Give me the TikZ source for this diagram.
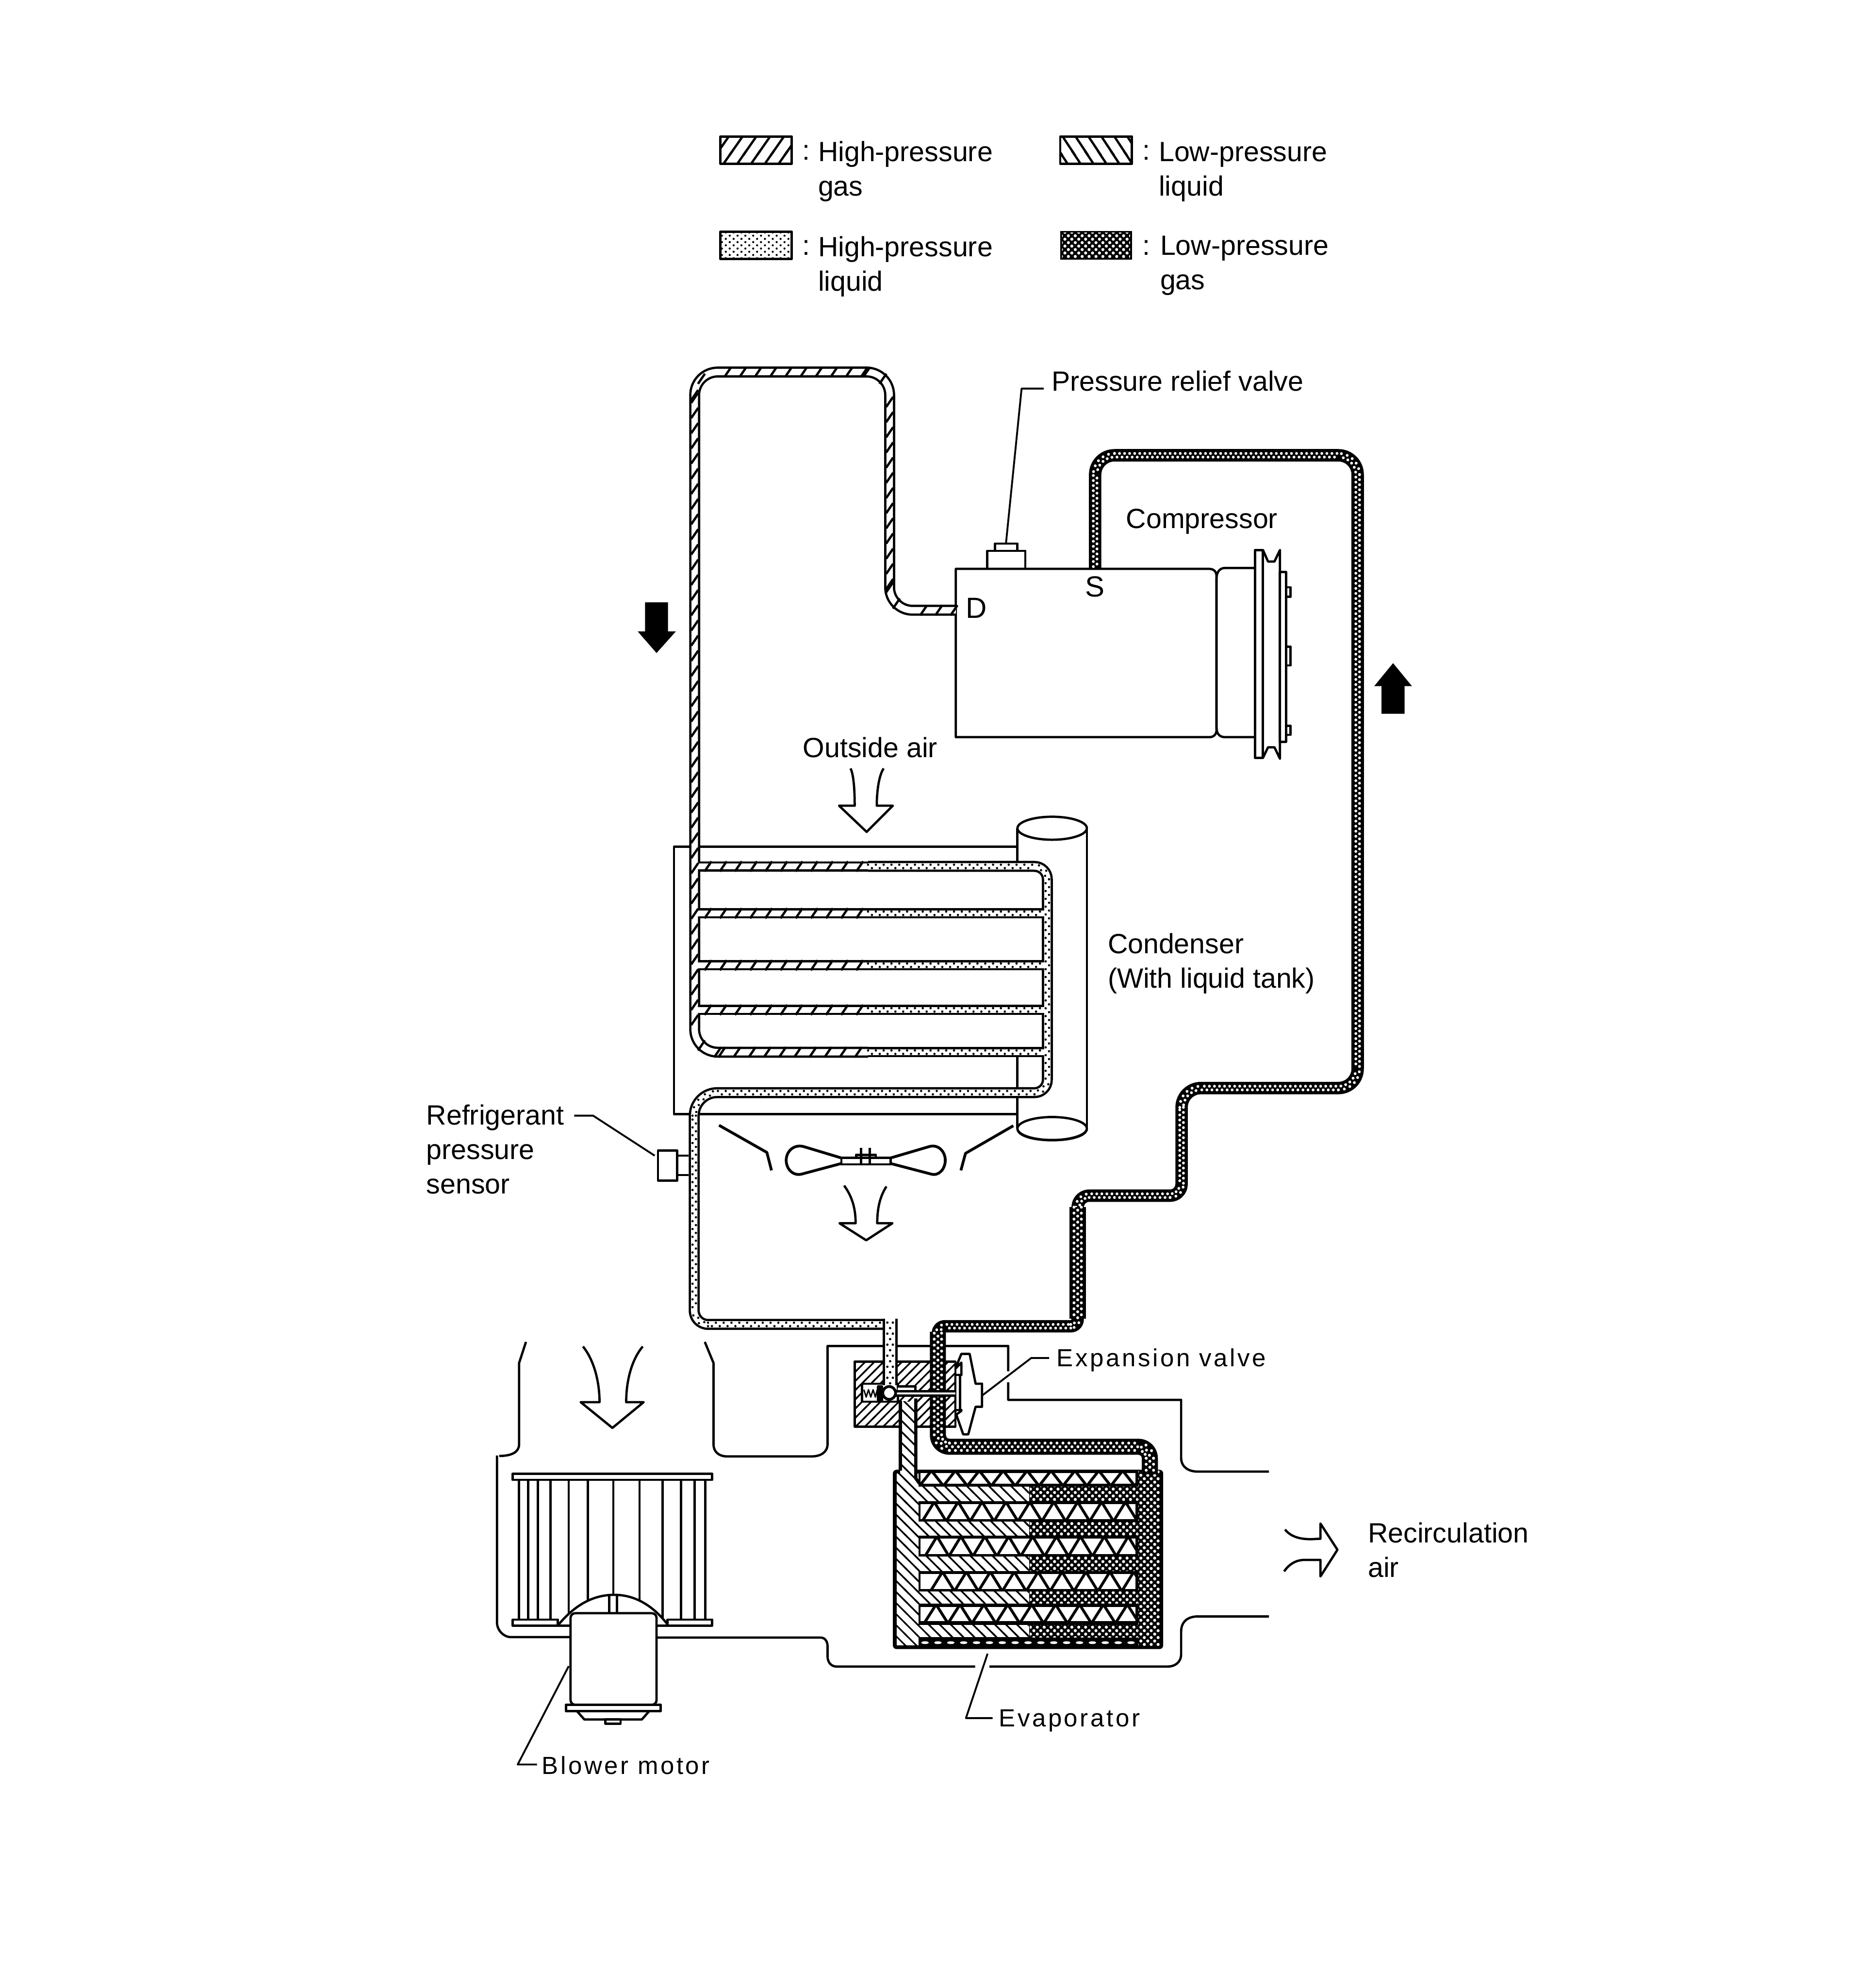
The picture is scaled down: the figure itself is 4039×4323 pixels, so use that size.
\documentclass[tikz,border=0pt]{standalone}
\usepackage{fontspec}
\setmainfont{Liberation Sans}
\newfontfamily\spcfont[LetterSpace=9]{Liberation Sans}
\usetikzlibrary{patterns}
\pgfdeclarepatternformonly{HGhatch}{\pgfqpoint{-2pt}{-2pt}}{\pgfqpoint{10.53pt}{14.2pt}}{\pgfqpoint{8.53pt}{12.2pt}}{%
 \pgfsetlinewidth{1.4pt}\pgfpathmoveto{\pgfqpoint{-1pt}{-1.43pt}}\pgfpathlineto{\pgfqpoint{9.53pt}{13.63pt}}\pgfusepath{stroke}}
\pgfdeclarepatternformonly{LLhatch}{\pgfqpoint{-2pt}{-2pt}}{\pgfqpoint{10pt}{14.2pt}}{\pgfqpoint{8pt}{12.2pt}}{%
 \pgfsetlinewidth{1.4pt}\pgfpathmoveto{\pgfqpoint{-1pt}{13.63pt}}\pgfpathlineto{\pgfqpoint{9pt}{-1.43pt}}\pgfusepath{stroke}}
\pgfdeclarepatternformonly{EVhatch}{\pgfqpoint{-2pt}{-2pt}}{\pgfqpoint{8.83pt}{8.83pt}}{\pgfqpoint{6.83pt}{6.83pt}}{%
 \pgfsetlinewidth{1pt}\pgfpathmoveto{\pgfqpoint{-1pt}{7.83pt}}\pgfpathlineto{\pgfqpoint{7.83pt}{-1pt}}\pgfusepath{stroke}}
\pgfdeclarepatternformonly{BKhatch}{\pgfqpoint{-2pt}{-2pt}}{\pgfqpoint{7.69pt}{7.69pt}}{\pgfqpoint{5.69pt}{5.69pt}}{%
 \pgfsetlinewidth{1pt}\pgfpathmoveto{\pgfqpoint{-1pt}{-1pt}}\pgfpathlineto{\pgfqpoint{6.69pt}{6.69pt}}\pgfusepath{stroke}}
\pgfdeclarepatternformonly{HLdots}{\pgfqpoint{-1pt}{-1pt}}{\pgfqpoint{5.84pt}{4.98pt}}{\pgfqpoint{4.84pt}{3.98pt}}{%
 \pgfpathcircle{\pgfqpoint{1.21pt}{1pt}}{0.65pt}\pgfpathcircle{\pgfqpoint{3.63pt}{3pt}}{0.65pt}\pgfusepath{fill}}
\pgfdeclarepatternformonly{LGdots}{\pgfqpoint{-1pt}{-1pt}}{\pgfqpoint{5.27pt}{5.27pt}}{\pgfqpoint{4.27pt}{4.27pt}}{%
 \pgfpathcircle{\pgfqpoint{1.07pt}{1.07pt}}{0.95pt}\pgfpathcircle{\pgfqpoint{3.2pt}{3.2pt}}{0.95pt}\pgfusepath{fill}}
\tikzset{
 lab/.style={inner sep=0pt,anchor=base west,font=\fontsize{17.2}{21.3}\selectfont},
 mlab/.style={inner sep=0pt,anchor=north west,align=left,font=\fontsize{17.2}{21.3}\selectfont},
 slab/.style={inner sep=0pt,anchor=base west,font=\fontsize{15.3}{20}\spcfont},
 leader/.style={line width=0.04cm},
 outerp/.style={draw=black,line width=#1*0.01cm},
 innerp/.style={draw=white,line width=#1*0.01cm},
}
% mark kinds: step along the pipe and what one mark draws
\def\stHG{33}\def\stHL{8.5}\def\stHW{12}\def\stLG{5.5}\def\stLW{6.5}
\newcommand{\mkHG}{\draw[line width=0.05cm] ({\mPx-7.5},{\mPy+11}) -- ({\mPx+7.5},{\mPy-11});}
\newcommand{\mkHL}{\ifodd\k\def\mS{3.7}\else\def\mS{-3.7}\fi\fill[black] ({\mPx+\mS*\mNx},{\mPy+\mS*\mNy}) circle (2.5);}
\newcommand{\mkHW}{\ifodd\k\fill[black] (\mPx,\mPy) circle (2.6);\else\fill[black] ({\mPx+6*\mNx},{\mPy+6*\mNy}) circle (2.6);\fill[black] ({\mPx-6*\mNx},{\mPy-6*\mNy}) circle (2.6);\fi}
\newcommand{\mkLG}{\ifodd\k\def\mS{4}\else\def\mS{-4}\fi\fill[white] ({\mPx+\mS*\mNx},{\mPy+\mS*\mNy}) circle (3.1);}
\newcommand{\mkLW}{\ifodd\k\fill[white] (\mPx,\mPy) circle (3.2);\else\fill[white] ({\mPx+8*\mNx},{\mPy+8*\mNy}) circle (3.2);\fill[white] ({\mPx-8*\mNx},{\mPy-8*\mNy}) circle (3.2);\fi}
% marks along a straight run: kind, x1, y1, x2, y2
\newcommand{\runmarks}[5]{%
 \edef\mStep{\csname st#1\endcsname}%
 \pgfmathsetmacro\mLen{veclen(#4-#2,#5-#3)}%
 \pgfmathsetmacro\mUx{(#4-#2)/\mLen}%
 \pgfmathsetmacro\mUy{(#5-#3)/\mLen}%
 \pgfmathtruncatemacro\mN{\mLen/\mStep}%
 \pgfmathsetmacro\mNx{-\mUy}%
 \pgfmathsetmacro\mNy{\mUx}%
 \foreach \k in {0,...,\mN}{%
  \pgfmathsetmacro\mPx{#2+\k*\mStep*\mUx}%
  \pgfmathsetmacro\mPy{#3+\k*\mStep*\mUy}%
  \csname mk#1\endcsname}}
% marks round a corner: kind, centre x, centre y, radius, angle1, angle2
\newcommand{\arcmarks}[6]{%
 \edef\mStep{\csname st#1\endcsname}%
 \pgfmathtruncatemacro\mN{max(2,#4*abs(#6-#5)*0.01745/\mStep)}%
 \foreach \k in {1,...,\mN}{%
  \pgfmathsetmacro\mA{#5+(#6-#5)*\k/\mN}%
  \pgfmathsetmacro\mNx{cos(\mA)}%
  \pgfmathsetmacro\mNy{sin(\mA)}%
  \pgfmathsetmacro\mPx{#2+#4*\mNx}%
  \pgfmathsetmacro\mPy{#3+#4*\mNy}%
  \csname mk#1\endcsname}}
\newcommand{\finrow}[3]{%
 \fill[white] (2002,#1) rectangle (2470,#2);
 \begin{scope}
 \clip (2002,#1) rectangle (2470,#2);
 \foreach \k in {0,...,10}{\draw[line width=0.06cm] ({#3+52*\k},{#2+5}) -- ({#3+26+52*\k},{#1-5}) -- ({#3+52+52*\k},{#2+5});}
 \end{scope}}
\newcommand{\tuberow}[2]{%
 \fill[white] (1998,#1) rectangle (2238,#2);
 \fill[pattern=EVhatch] (1998,#1) rectangle (2238,#2);
 \fill[pattern=LGdots,pattern color=white] (2240,#1) rectangle (2475,#2);}
\begin{document}
\begin{tikzpicture}[x=0.01cm,y=-0.01cm,line width=0.05cm,line join=round]
\fill[white] (0,0) rectangle (4039,4323);
\useasboundingbox (0,0) rectangle (4039,4323);
% legend
\draw[pattern=HGhatch] (1567,297) rectangle (1722,356);
\draw[pattern=LLhatch] (2306,297) rectangle (2462,356);
\draw[pattern=HLdots] (1567,504) rectangle (1722,563);
\fill[black] (2306,502) rectangle (2462,565);
\fill[pattern=LGdots,pattern color=white] (2310,506) rectangle (2458,561);
\node[lab] (c1) at (1743,348) {:};
\node[lab] (c2) at (2482,348) {:};
\node[lab] (c3) at (1743,555) {:};
\node[lab] (c4) at (2482,555) {:};
\node[mlab] (lg1) at (1777,305) {High-pressure\\gas};
\node[mlab] (lg2) at (2518,307) {Low-pressure\\liquid};
\node[mlab] (lg3) at (1777,511) {High-pressure\\liquid};
\node[mlab] (lg4) at (2521,510) {Low-pressure\\gas};
% compressor
\draw (2630,1237) -- (2079,1237) -- (2079,1603) -- (2630,1603) .. controls (2640,1603) and (2646,1597) .. (2646,1587) -- (2646,1253) .. controls (2646,1243) and (2640,1237) .. (2630,1237) -- cycle;
\draw (2730,1235) -- (2665,1235) .. controls (2652,1235) and (2646,1245) .. (2646,1258) -- (2646,1582) .. controls (2646,1595) and (2652,1603) .. (2665,1603) -- (2730,1603);
\draw (2730,1196) rectangle (2747,1648);
\draw (2747,1196) -- (2758,1221) -- (2772,1221) -- (2784,1196) -- (2784,1650) -- (2772,1625) -- (2758,1625) -- (2747,1648);
\draw (2784,1244) rectangle (2797,1613);
\draw (2797,1277) rectangle (2807,1298);
\draw (2797,1406) rectangle (2807,1447);
\draw (2797,1578) rectangle (2807,1598);
\draw (2147,1237) -- (2147,1198) -- (2230,1198) -- (2230,1237);
\draw (2164,1198) -- (2164,1182) -- (2213,1182) -- (2213,1198);
\coordinate (rvcap) at (2188,1182);
\coordinate (rvbend) at (2222,845);
\node[lab] (rvlabel) at (2285,850) {Pressure relief valve};
\draw[leader] (rvcap) -- (rvbend) -- (2270,845);
\node[lab] (complabel) at (2447,1149) {Compressor};
\node[inner sep=0pt,anchor=base west,font=\fontsize{18}{20}\selectfont] (dlabel) at (2098,1344) {D};
\node[inner sep=0pt,anchor=base west,font=\fontsize{18}{20}\selectfont] (slabel) at (2358,1298) {S};
% flow arrows
\fill[black] (1403,1310) -- (1453,1310) -- (1453,1373) -- (1470,1373) -- (1428,1420) -- (1387,1373) -- (1403,1373) -- cycle;
\fill[black] (3005,1552) -- (3055,1552) -- (3055,1492) -- (3071,1492) -- (3030,1442) -- (2989,1492) -- (3005,1492) -- cycle;
% outside air
\node[lab] (oalabel) at (1744,1647) {Outside air};
\draw (1850,1671) .. controls (1857,1685) and (1859,1720) .. (1859,1752) -- (1825,1752) -- (1885,1809) -- (1942,1752) -- (1907,1752) .. controls (1907,1720) and (1912,1685) .. (1922,1671);
% condenser body
\draw (1466,1841) rectangle (2213,2423);
\fill[white] (2213,1800) rectangle (2364,2454);
\draw (2213,1801) -- (2213,2454);
\draw (2364,1801) -- (2364,2454);
\draw[fill=white] (2288.5,1801) ellipse (75.5 and 25);
\draw (2213,2454) .. controls (2213,2488) and (2364,2488) .. (2364,2454);
\draw[fill=white] (2288.5,2454) ellipse (75.5 and 25);
\fill[white] (1522,1880) rectangle (2266,2290);
\node[lab] (condlabel) at (2407,2073) {Condenser};
\node[lab] (condlabel2) at (2407,2148) {(With liquid tank)};
% high pressure pipes
\def\hgmain{(2079,1327) -- (1935,1327) -- (1935,809) -- (1511,809) -- (1511,2288) -- (1888,2288)}
\def\hlA{(1888,1884) -- (2278,1884) -- (2278,2376) -- (2100,2376)}
\def\hlB{(2100,2376) -- (1510,2376) -- (1510,2600)}
\def\hlC{(1510,2600) -- (1510,2880) -- (1936,2880)}
\foreach \yy in {1884,1986,2099,2196}{\draw[outerp=22] (1511,\yy) -- (1888,\yy);}
\foreach \yy in {1986,2099,2196,2288}{\draw[outerp=22] (1888,\yy) -- (2278,\yy);}
\draw[outerp=24,rounded corners=0.5cm] \hgmain;
\draw[outerp=24,rounded corners=0.28cm] \hlA;
\draw[outerp=24,rounded corners=0.5cm] \hlB;
\draw[outerp=24,rounded corners=0.3cm] \hlC;
\foreach \yy in {1884,1986,2099,2196}{\draw[innerp=13] (1511,\yy) -- (1888,\yy);}
\foreach \yy in {1986,2099,2196,2288}{\draw[innerp=13] (1888,\yy) -- (2278,\yy);}
\draw[innerp=14,rounded corners=0.5cm] \hgmain;
\draw[innerp=14,rounded corners=0.28cm] \hlA;
\draw[innerp=14,rounded corners=0.5cm] \hlB;
\draw[innerp=14,rounded corners=0.3cm] \hlC;
% hatching of the high-pressure gas line
\runmarks{HG}{2075}{1327}{1985}{1327}
\arcmarks{HG}{1985}{1277}{50}{90}{180}
\runmarks{HG}{1935}{1270}{1935}{859}
\arcmarks{HG}{1885}{859}{50}{0}{-90}
\runmarks{HG}{1880}{809}{1561}{809}
\arcmarks{HG}{1561}{859}{50}{-90}{-180}
\runmarks{HG}{1511}{865}{1511}{2238}
\arcmarks{HG}{1561}{2238}{50}{180}{90}
\runmarks{HG}{1570}{2288}{1880}{2288}
\foreach \yy in {1884,1986,2099,2196}{\runmarks{HG}{1540}{\yy}{1880}{\yy}}
% stipple of the high-pressure liquid line
\runmarks{HL}{1888}{1884}{2250}{1884}
\arcmarks{HL}{2250}{1912}{28}{-90}{0}
\runmarks{HL}{2278}{1912}{2278}{2348}
\arcmarks{HL}{2250}{2348}{28}{0}{90}
\runmarks{HL}{2250}{2376}{1560}{2376}
\arcmarks{HL}{1560}{2426}{50}{-90}{-180}
\runmarks{HL}{1510}{2426}{1510}{2850}
\arcmarks{HL}{1540}{2850}{30}{180}{90}
\runmarks{HL}{1540}{2880}{1918}{2880}
\foreach \yy in {1986,2099,2196,2288}{\runmarks{HL}{1888}{\yy}{2265}{\yy}}
% sensor
\draw[fill=white] (1431,2502) rectangle (1473,2567);
\draw (1473,2513) -- (1498,2513);
\draw (1473,2555) -- (1498,2555);
\node[mlab] (rpslabel) at (925,2400) {Refrigerant\\pressure\\sensor};
\coordinate (rpsbend) at (1290,2426);
\coordinate (rpsend) at (1424,2513);
\draw[leader] (1249,2426) -- (rpsbend) -- (rpsend);
% fan
\draw[line width=0.06cm] (1564,2447) -- (1668,2506) -- (1678,2545);
\draw[line width=0.06cm] (2204,2448) -- (2100,2508) -- (2090,2545);
\draw (1830,2518) rectangle (1937,2532);
\draw (1862,2518) -- (1862,2511) -- (1905,2511) -- (1905,2518);
\draw (1873,2496) -- (1873,2534);
\draw (1892,2496) -- (1892,2534);
\draw[line width=0.06cm] (1830,2518) -- (1747,2493) .. controls (1725,2488) and (1710,2505) .. (1710,2523) .. controls (1710,2542) and (1725,2558) .. (1744,2553) -- (1830,2530);
\draw[line width=0.06cm] (1937,2518) -- (2022,2493) .. controls (2042,2488) and (2056,2505) .. (2056,2523) .. controls (2056,2542) and (2042,2558) .. (2025,2553) -- (1937,2530);
\draw (1836,2578) .. controls (1852,2600) and (1861,2625) .. (1861,2660) -- (1826,2660) -- (1884,2697) -- (1941,2660) -- (1908,2660) .. controls (1908,2625) and (1915,2600) .. (1928,2580);
% housing
\draw (1144,2918) -- (1129,2964) -- (1129,3141) .. controls (1129,3158) and (1112,3166) .. (1086,3166);
\draw (1533,2918) -- (1552,2964) -- (1552,3141) .. controls (1552,3158) and (1565,3167) .. (1581,3167) -- (1765,3167) .. controls (1785,3167) and (1800,3158) .. (1800,3140) -- (1800,2927) -- (2193,2927) -- (2193,2982);
\draw (2193,3006) -- (2193,3044) -- (2569,3044) -- (2569,3170) .. controls (2569,3190) and (2585,3200) .. (2605,3200) -- (2760,3200);
\draw (2760,3515) -- (2605,3515) .. controls (2585,3515) and (2569,3525) .. (2569,3548) -- (2569,3597) .. controls (2569,3615) and (2555,3624) .. (2540,3624) -- (2152,3624);
\draw (2121,3624) -- (1820,3624) .. controls (1808,3624) and (1800,3615) .. (1800,3602) -- (1800,3580) .. controls (1800,3570) and (1795,3561) .. (1785,3561) -- (1429,3561);
\draw (1242,3560) -- (1112,3560) .. controls (1095,3560) and (1081,3545) .. (1081,3528) -- (1081,3165);
\draw (1268,2928) .. controls (1290,2955) and (1304,3000) .. (1304,3049) -- (1263,3049) -- (1332,3105) -- (1400,3049) -- (1362,3049) .. controls (1362,3000) and (1375,2955) .. (1398,2928);
% blower
\foreach \xx in {1129,1149,1170,1197,1237,1279,1334,1391,1441,1481,1511,1534}{\draw (\xx,3218) -- (\xx,3525);}
\draw[fill=white] (1213,3535) .. controls (1250,3490) and (1290,3468) .. (1336,3468) .. controls (1380,3468) and (1420,3490) .. (1454,3535) -- cycle;
\draw[fill=white] (1115,3205) rectangle (1549,3218);
\draw[fill=white] (1115,3522) rectangle (1213,3535);
\draw[fill=white] (1452,3522) rectangle (1549,3535);
\draw (1325,3470) -- (1325,3508);
\draw (1342,3470) -- (1342,3508);
\draw[fill=white,rounded corners=0.1cm] (1241,3707) -- (1241,3508) -- (1428,3508) -- (1428,3707) -- cycle;
\draw[fill=white] (1231,3707) rectangle (1437,3721);
\draw (1255,3721) -- (1271,3739) -- (1396,3739) -- (1412,3721);
\draw (1317,3739) rectangle (1350,3748);
\node[slab] (bmlabel) at (1176,3858) {Blower motor};
\coordinate (bmend) at (1237,3623);
\coordinate (bmbend) at (1126,3837);
\draw[leader] (bmend) -- (bmbend) -- (1168,3837);
% valve block
\draw[pattern=BKhatch] (1859,2961) rectangle (2078,3102);
\draw[fill=white] (1875,3009) rectangle (1953,3048);
\fill[white] (1953,3015) rectangle (1991,3035);
\draw (1953,3015) -- (1991,3015) -- (1991,3025);
\draw[line width=0.03cm] (1879,3022) -- (1884,3038) -- (1889,3022) -- (1894,3038) -- (1899,3022) -- (1904,3038) -- (1908,3022);
\draw[fill=black] (1910,3015) rectangle (1918,3044);
% evaporator
\fill[black,rounded corners=0.08cm] (1942,3196) rectangle (2530,3586);
\fill[white] (1950,3204) rectangle (1998,3578);
\fill[pattern=EVhatch] (1950,3204) rectangle (1998,3578);
\fill[pattern=LGdots,pattern color=white] (2476,3196) rectangle (2522,3578);
\tuberow{3233}{3264}
\tuberow{3309}{3339}
\tuberow{3385}{3416}
\tuberow{3461}{3487}
\tuberow{3534}{3560}
\finrow{3203}{3226}{2000}
\finrow{3271}{3303}{2006}
\finrow{3346}{3379}{2012}
\finrow{3423}{3455}{2024}
\finrow{3494}{3525}{2010}
\foreach \xx in {2012,2040,...,2460}{\fill[white] (\xx,3572) ellipse (8 and 3);}
% liquid line into evaporator
\fill[white] (1958,3048) rectangle (1992,3204);
\fill[pattern=EVhatch] (1958,3048) rectangle (1992,3204);
\draw[line width=0.07cm] (1958,3046) -- (1958,3198);
\draw[line width=0.07cm] (1992,3041) -- (1992,3215) -- (2000,3226);
% hp liquid drop + lp pipes
\draw[outerp=33] (1936,2868) -- (1936,3012);
\draw[innerp=22] (1936,2868) -- (1936,3012);
\runmarks{HW}{1936}{2876}{1936}{3010}
\def\lpaA{(2382,1237) -- (2382,990) -- (2953,990) -- (2953,2366) -- (2570,2366) -- (2570,2480)}
\def\lpaB{(2570,2480) -- (2570,2600) -- (2344,2600) -- (2344,2640)}
\draw[outerp=27,rounded corners=0.42cm] \lpaA;
\draw[outerp=27,rounded corners=0.25cm] \lpaB;
\runmarks{LG}{2382}{1232}{2382}{1032}
\arcmarks{LG}{2424}{1032}{42}{180}{270}
\runmarks{LG}{2424}{990}{2911}{990}
\arcmarks{LG}{2911}{1032}{42}{-90}{0}
\runmarks{LG}{2953}{1032}{2953}{2324}
\arcmarks{LG}{2911}{2324}{42}{0}{90}
\runmarks{LG}{2911}{2366}{2612}{2366}
\arcmarks{LG}{2612}{2408}{42}{-90}{-180}
\runmarks{LG}{2570}{2408}{2570}{2575}
\arcmarks{LG}{2545}{2575}{25}{0}{90}
\runmarks{LG}{2545}{2600}{2369}{2600}
\arcmarks{LG}{2369}{2625}{25}{-90}{-180}
\def\lpb{(2344,2862) -- (2344,2884) -- (2040,2884) -- (2040,2906)}
\draw[outerp=27,rounded corners=0.15cm] \lpb;
\arcmarks{LG}{2329}{2869}{15}{0}{90}
\runmarks{LG}{2329}{2884}{2055}{2884}
\arcmarks{LG}{2055}{2899}{15}{-90}{-180}
\draw[outerp=36] (2344,2625) -- (2344,2868);
\runmarks{LW}{2344}{2625}{2344}{2866}
\def\lpc{(2040,2896) -- (2040,3146) -- (2501,3146) -- (2501,3206)}
\draw[outerp=35,rounded corners=0.25cm] \lpc;
\runmarks{LW}{2040}{2899}{2040}{3121}
\arcmarks{LW}{2065}{3121}{25}{180}{90}
\runmarks{LW}{2065}{3146}{2476}{3146}
\arcmarks{LW}{2476}{3171}{25}{-90}{0}
\runmarks{LW}{2501}{3171}{2501}{3200}
% diaphragm
\draw[fill=white] (2078,2976) -- (2091,2944) -- (2109,2944) -- (2122,3009) -- (2136,3009) -- (2136,3059) -- (2122,3059) -- (2106,3119) -- (2095,3119) -- (2080,3076) -- (2091,3068) -- (2091,3066) -- (2078,3066) -- (2078,2990) -- (2091,2990) -- (2091,2963) -- cycle;
\draw[fill=white] (2078,2990) rectangle (2088,3066);
% rod and ball
\fill[white] (1948,3026) rectangle (2078,3034);
\draw (1948,3025) -- (2078,3025);
\draw (1948,3035) -- (2078,3035);
\draw[fill=white,line width=0.06cm] (1934,3029) circle (14);
% valve leader
\node[slab] (evlabel) at (2296,2972) {Expansion valve};
\coordinate (evend) at (2137,3034);
\coordinate (evbend) at (2243,2953);
\draw[leader] (evend) -- (evbend) -- (2282,2953);
% evaporator leader
\node[slab] (eplabel) at (2170,3755) {Evaporator};
\coordinate (epend) at (2148,3596);
\coordinate (epbend) at (2101,3736);
\draw[leader] (epend) -- (epbend) -- (2159,3736);
% recirculation
\node[mlab] (rclabel) at (2973,3308) {Recirculation\\air};
\draw (2795,3326) .. controls (2810,3345) and (2835,3347) .. (2852,3347) -- (2872,3346) -- (2872,3313) -- (2909,3370) -- (2872,3428) -- (2872,3392) -- (2838,3392) .. controls (2820,3392) and (2805,3400) .. (2793,3417);
\end{tikzpicture}
\end{document}
